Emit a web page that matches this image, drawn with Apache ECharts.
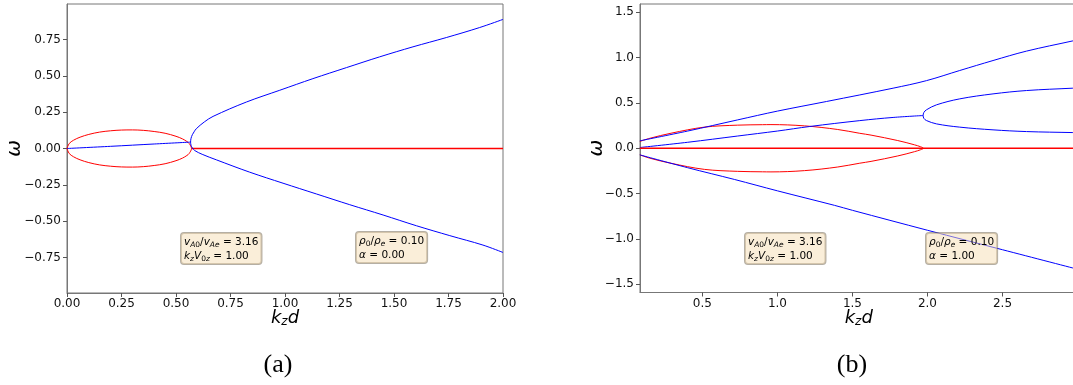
<!DOCTYPE html>
<html>
<head>
<meta charset="utf-8">
<script src="https://cdn.jsdelivr.net/npm/echarts@6/dist/echarts.min.js"></script>
<style>
html,body{margin:0;padding:0;background:#fff;}
#chart{width:1073px;height:385px;}
</style>
</head>
<body>
<div id="chart"></div>
<script>
// ---------- tick labels ----------
const aYTicks = [-0.75, -0.5, -0.25, 0, 0.25, 0.5, 0.75];
const bXTicks = [0.5, 1.0, 1.5, 2.0, 2.5];
const bYTicks = [-1.5, -1.0, -0.5, 0, 0.5, 1.0, 1.5];

// ---------- panel (a): alpha = 0 ----------
// imaginary part (red): closed loop and zero line
const aImagTop = [[0,0],[0.01,0.034],[0.03,0.057],[0.06,0.078],[0.1,0.097],[0.15,0.113],[0.2,0.122],[0.25,0.127],[0.3,0.128],[0.35,0.125],[0.4,0.117],[0.45,0.105],[0.5,0.084],[0.53,0.066],[0.55,0.048],[0.56,0.035],[0.571,0]];
const aImagBottom = [[0.571,0],[0.56,-0.035],[0.55,-0.048],[0.53,-0.066],[0.5,-0.084],[0.45,-0.105],[0.4,-0.117],[0.35,-0.125],[0.3,-0.128],[0.25,-0.127],[0.2,-0.122],[0.15,-0.113],[0.1,-0.097],[0.06,-0.078],[0.03,-0.057],[0.01,-0.034],[0,0]];
const aImagZero = [[0.571,0],[2.0,0]];
// real part (blue)
const aRealLow = [[0,0],[0.2,0.015],[0.4,0.031],[0.567,0.044]];
const aRealUpper = [[0.567,0.044],[0.569,0.07],[0.575,0.095],[0.583,0.115],[0.593,0.136],[0.63,0.183],[0.67,0.221],[0.823,0.32],[0.976,0.401],[1.128,0.481],[1.282,0.557],[1.434,0.631],[1.587,0.7],[1.74,0.764],[1.893,0.833],[2.0,0.889]];
const aRealLower = [[0.567,0.044],[0.569,0.022],[0.575,0.004],[0.586,-0.014],[0.62,-0.04],[0.685,-0.078],[0.838,-0.163],[0.991,-0.239],[1.144,-0.313],[1.297,-0.387],[1.45,-0.458],[1.603,-0.532],[1.756,-0.6],[1.908,-0.665],[2.0,-0.716]];

// ---------- panel (b): alpha = 1 ----------
const bImagTop = [[0.083,0.075],[0.15,0.11],[0.291,0.166],[0.513,0.233],[0.735,0.255],[0.9,0.26],[0.957,0.261],[1.18,0.247],[1.402,0.207],[1.549,0.165],[1.624,0.145],[1.802,0.085],[1.913,0.038],[1.955,0.016],[1.973,0]];
const bImagBottom = [[1.973,0],[1.955,-0.016],[1.913,-0.038],[1.802,-0.085],[1.624,-0.145],[1.549,-0.165],[1.402,-0.207],[1.18,-0.247],[0.957,-0.261],[0.9,-0.26],[0.735,-0.255],[0.513,-0.233],[0.291,-0.166],[0.15,-0.11],[0.083,-0.073]];
const bImagZero = [[0.083,0],[3.0,0]];
const bRealTop = [[0.083,0.082],[0.402,0.19],[0.735,0.313],[1.0,0.41],[1.327,0.516],[1.771,0.663],[1.993,0.746],[2.215,0.858],[2.437,0.968],[2.66,1.072],[2.969,1.185],[3.0,1.197]];
const bRealMid = [[0.083,0.008],[0.402,0.066],[0.735,0.135],[1.0,0.19],[1.215,0.24],[1.549,0.305],[1.771,0.34],[1.971,0.361]];
const bRealForkUp = [[1.971,0.361],[1.976,0.395],[1.993,0.424],[2.06,0.479],[2.215,0.545],[2.437,0.6],[2.66,0.637],[2.969,0.663],[3.0,0.665]];
const bRealForkLow = [[1.971,0.361],[1.976,0.33],[1.993,0.306],[2.06,0.269],[2.215,0.233],[2.437,0.203],[2.66,0.184],[2.969,0.173],[3.0,0.172]];
const bRealBottom = [[0.083,-0.073],[0.402,-0.215],[0.715,-0.345],[1.0,-0.47],[1.38,-0.63],[1.5,-0.685],[2.0,-0.905],[2.5,-1.12],[3.0,-1.335]];

// ---------- box texts ----------
const boxA1 = ['{i|v}{si|A}{sr|0}{r|/}{i|v}{si|Ae}{r| = 3.16}', '{i|k}{si|z}{i|V}{sr|0}{si|z}{r| = 1.00}'];
const boxA2 = ['{i|ρ}{sr|0}{r|/}{i|ρ}{si|e}{r| = 0.10}', '{i|α}{r| = 0.00}'];
const boxB1 = boxA1;
const boxB2 = ['{i|ρ}{sr|0}{r|/}{i|ρ}{si|e}{r| = 0.10}', '{i|α}{r| = 1.00}'];

const FONT = 'DejaVu Sans';
const AX = '#777';
const BLUE = '#0000ff';
const RED = '#ff0000';

const minus = s => s.replace('-', '\u2212');
const fmt2 = v => minus(v.toFixed(2));
const fmt1 = v => minus(v.toFixed(1));

const boxFont = 10.5;
const boxRich = {
  i: {fontFamily: FONT, fontStyle: 'italic', fontSize: boxFont, fill: '#000', lineHeight: 14},
  r: {fontFamily: FONT, fontSize: boxFont, fill: '#000', lineHeight: 14},
  si: {fontFamily: FONT, fontStyle: 'italic', fontSize: 7.5, fill: '#000', verticalAlign: 'bottom', lineHeight: 14},
  sr: {fontFamily: FONT, fontSize: 7.5, fill: '#000', verticalAlign: 'bottom', lineHeight: 14}
};

function box(x, y, lines) {
  return {
    type: 'text', left: x, top: y, z: 5,
    style: {
      text: lines.join('\n'),
      rich: boxRich,
      fontFamily: FONT, fontSize: boxFont, lineHeight: 14,
      backgroundColor: 'rgba(245,222,179,0.5)',
      borderColor: 'rgba(120,110,90,0.55)',
      borderWidth: 1,
      borderRadius: 3,
      padding: [2, 3, 1, 3]
    }
  };
}

function axisCommon() {
  return {
    type: 'value',
    nameMoveOverlap: false,
    axisLine: {show: true, onZero: false, lineStyle: {color: AX, width: 1}},
    axisTick: {show: true, inside: false, length: 4, lineStyle: {color: '#555', width: 1}},
    splitLine: {show: false},
    axisLabel: {color: '#111', fontSize: 12, fontFamily: FONT}
  };
}

const nameRich = {
  i: {fontFamily: FONT, fontStyle: 'italic', fontSize: 18, color: '#000'},
  s: {fontFamily: FONT, fontStyle: 'italic', fontSize: 12, color: '#000', verticalAlign: 'bottom', padding: [7,0,0,0]}
};

const xA = Object.assign(axisCommon(), {
  gridIndex: 0, min: 0, max: 2, interval: 0.25,
  name: '{i|k}{s|z}{i|d}', nameLocation: 'middle', nameGap: 16,
  nameTextStyle: {rich: nameRich}
});
xA.axisLabel = Object.assign({}, xA.axisLabel, {formatter: fmt2, margin: 5});

const xB = Object.assign(axisCommon(), {
  gridIndex: 1, min: 0.084, max: 3.0,
  name: '{i|k}{s|z}{i|d}', nameLocation: 'middle', nameGap: 16,
  nameTextStyle: {rich: nameRich}
});
xB.axisTick = Object.assign({}, xB.axisTick, {customValues: bXTicks});
xB.axisLabel = Object.assign({}, xB.axisLabel, {formatter: fmt1, margin: 5, customValues: bXTicks});

const yA = Object.assign(axisCommon(), {
  gridIndex: 0, min: -0.995, max: 0.995,
  name: 'ω', nameLocation: 'middle', nameGap: 42, nameRotate: 90,
  nameTextStyle: {fontFamily: FONT, fontStyle: 'italic', fontSize: 20, color: '#000'}
});
yA.axisTick = Object.assign({}, yA.axisTick, {customValues: aYTicks});
yA.axisLabel = Object.assign({}, yA.axisLabel, {formatter: fmt2, margin: 6, customValues: aYTicks});

const yB = Object.assign(axisCommon(), {
  gridIndex: 1, min: -1.592, max: 1.592,
  name: 'ω', nameLocation: 'middle', nameGap: 33, nameRotate: 90,
  nameTextStyle: {fontFamily: FONT, fontStyle: 'italic', fontSize: 20, color: '#000'}
});
yB.axisTick = Object.assign({}, yB.axisTick, {customValues: bYTicks});
yB.axisLabel = Object.assign({}, yB.axisLabel, {formatter: fmt1, margin: 6, customValues: bYTicks});

function line(data, color, gi, w, smooth) {
  return {
    type: 'line', data: data, xAxisIndex: gi, yAxisIndex: gi,
    showSymbol: false, symbol: 'none', silent: true, animation: false,
    smooth: smooth === undefined ? 0.35 : smooth,
    lineStyle: {color: color, width: w || 1}, z: 3
  };
}

// fork curves drawn as one path through the nose
const aFork = aRealLower.slice().reverse().concat(aRealUpper.slice(1));
const bFork = bRealForkLow.slice().reverse().concat(bRealForkUp.slice(1));

const gridCommon = {show: true, borderColor: AX, borderWidth: 1, backgroundColor: 'transparent', containLabel: false, outerBoundsMode: 'none'};

const option = {
  animation: false,
  backgroundColor: '#fff',
  grid: [
    Object.assign({left: 67, top: 4, width: 436, height: 289}, gridCommon),
    Object.assign({left: 640, top: 4, width: 437.5, height: 288.5}, gridCommon)
  ],
  xAxis: [xA, xB],
  yAxis: [yA, yB],
  series: [
    line(aImagTop.concat(aImagBottom), RED, 0),
    line(aImagZero, RED, 0, 1.3, false),
    line(aRealLow, BLUE, 0),
    line(aFork, BLUE, 0),
    line(bImagTop.concat(bImagBottom), RED, 1),
    line(bRealTop, BLUE, 1),
    line(bRealMid, BLUE, 1),
    line(bFork, BLUE, 1),
    line(bRealBottom, BLUE, 1),
    line(bImagZero, RED, 1, 1.3, false)
  ],
  graphic: [
    box(180, 232, boxA1),
    box(355, 231, boxA2),
    box(744, 232, boxB1),
    box(925, 232, boxB2),
    {type: 'text', x: 278, y: 365, style: {text: '(a)', fontFamily: 'Liberation Serif', fontSize: 26, fill: '#000', align: 'center', verticalAlign: 'middle'}},
    {type: 'text', x: 852, y: 365, style: {text: '(b)', fontFamily: 'Liberation Serif', fontSize: 26, fill: '#000', align: 'center', verticalAlign: 'middle'}}
  ]
};

const chart = echarts.init(document.getElementById('chart'), null, {renderer: 'canvas'});
chart.setOption(option);
</script>
</body>
</html>
